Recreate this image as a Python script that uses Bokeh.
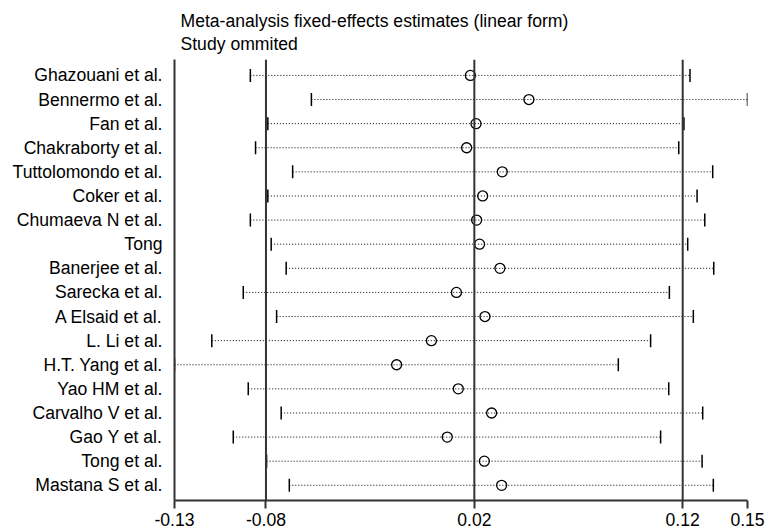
from bokeh.plotting import figure
from bokeh.models import Range1d, FixedTicker, Span, Title, ColumnDataSource
from bokeh.embed import file_html
from bokeh.resources import INLINE
import math

studies = ["Ghazouani et al.", "Bennermo et al.", "Fan et al.", "Chakraborty et al.",
           "Tuttolomondo et al.", "Coker et al.", "Chumaeva N et al.", "Tong",
           "Banerjee et al.", "Sarecka et al.", "A Elsaid et al.", "L. Li et al.",
           "H.T. Yang et al.", "Yao HM et al.", "Carvalho V et al.", "Gao Y et al.",
           "Tong et al.", "Mastana S et al."]
estimate = [0.0181, 0.0462, 0.0208, 0.0163, 0.0334, 0.0240, 0.0211, 0.0225, 0.0323,
            0.0114, 0.0251, -0.0006, -0.0173, 0.0123, 0.0283, 0.0070, 0.0248, 0.0331]
lower = [-0.0875, -0.0582, -0.0791, -0.0850, -0.0672, -0.0791, -0.0875, -0.0775, -0.0703,
         -0.0909, -0.0749, -0.1060, -0.1239, -0.0885, -0.0727, -0.0957, -0.0797, -0.0688]
upper = [0.1235, 0.1511, 0.1206, 0.1181, 0.1344, 0.1269, 0.1306, 0.1224, 0.1349,
         0.1136, 0.1251, 0.1046, 0.0891, 0.1133, 0.1296, 0.1094, 0.1293, 0.1347]
overall = [-0.08, 0.02, 0.12]   # overall lower CI, estimate, upper CI
tick_labels = ["-0.13", "-0.08", "0.02", "0.12", "0.15"]
title_lines = ["Meta-analysis fixed-effects estimates (linear form)", "Study ommited"]

FONT = "Liberation Sans"
FS = "17.6px"
DARK = "#333333"

rows = list(range(len(studies)))
xmin, xmax = min(lower), max(upper)

src = ColumnDataSource(dict(row=rows, est=estimate, lo=lower, hi=upper))

p = figure(width=768, height=528, output_backend="svg", toolbar_location=None,
           x_range=Range1d(xmin, xmax),
           y_range=Range1d(len(studies) - 1 + 0.63, -0.66),
           min_border_left=174, min_border_right=21, min_border_top=59, min_border_bottom=27)
p.outline_line_color = None
p.grid.visible = False
p.background_fill_color = "white"
p.border_fill_color = "white"

p.title.visible = False
t = Title(text="\n".join(title_lines), align="left", offset=6, standoff=12,
          text_font=FONT, text_font_size=FS, text_font_style="normal",
          text_color="#000000", text_line_height=1.15)
p.add_layout(t, "above")

# x axis
xt = [xmin] + overall + [xmax]
p.xaxis.ticker = FixedTicker(ticks=xt)
p.xaxis.major_label_overrides = {v: s for v, s in zip(xt, tick_labels)}
p.xaxis.minor_tick_line_color = None
p.xaxis.major_tick_out = 8
p.xaxis.major_tick_in = 0
p.xaxis.major_label_standoff = 4
p.xaxis.axis_line_color = DARK
p.xaxis.axis_line_width = 2
p.xaxis.major_tick_line_color = DARK
p.xaxis.major_tick_line_width = 2
p.xaxis.major_label_text_font = FONT
p.xaxis.major_label_text_font_size = FS
p.xaxis.major_label_text_color = "#000000"

# y axis
p.yaxis.ticker = FixedTicker(ticks=rows)
p.yaxis.major_label_overrides = {r: s for r, s in zip(rows, studies)}
p.yaxis.minor_tick_line_color = None
p.yaxis.major_tick_line_color = None
p.yaxis.major_tick_out = 0
p.yaxis.major_tick_in = 0
p.yaxis.major_label_standoff = 12
p.yaxis.axis_line_color = DARK
p.yaxis.axis_line_width = 2
p.yaxis.major_label_text_font = FONT
p.yaxis.major_label_text_font_size = FS
p.yaxis.major_label_text_color = "#000000"

# overall reference lines
for v in overall:
    p.add_layout(Span(location=v, dimension="height", line_color=DARK, line_width=2))

# CI dotted lines
p.segment(x0="lo", x1="hi", y0="row", y1="row", source=src,
          line_color="#000000", line_width=1, line_dash="1 2")
# caps
p.scatter(x="lo", y="row", source=src, marker="dash", size=13, angle=math.pi / 2,
          line_color="#000000", line_width=1.5)
p.scatter(x="hi", y="row", source=src, marker="dash", size=13, angle=math.pi / 2,
          line_color="#000000", line_width=1.5)
# estimates
p.scatter(x="est", y="row", source=src, marker="circle", size=10,
          fill_color=None, line_color="#000000", line_width=1.3)

open("out.html", "w").write(file_html(p, INLINE))
